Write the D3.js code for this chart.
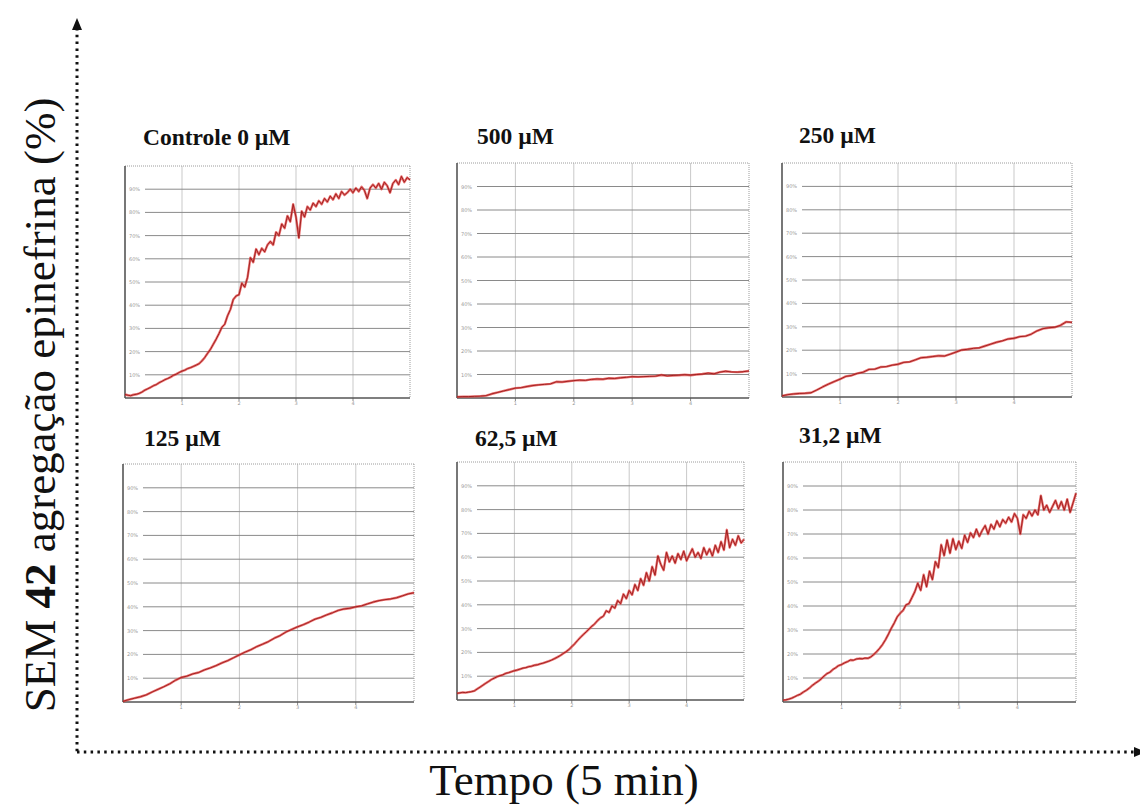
<!DOCTYPE html>
<html>
<head>
<meta charset="utf-8">
<script src="https://cdn.jsdelivr.net/npm/d3@7"></script>
<style>
  body { margin: 0; background: #fff; }
  svg { display: block; }
</style>
</head>
<body>
<svg id="chart" width="1140" height="806"></svg>
<script>
// Panel titles (concentration of SEM 42)
const panelTitles = ["Controle 0 µM", "500 µM", "250 µM", "125 µM", "62,5 µM", "31,2 µM"];

// Aggregation traces (%), sampled every 0.05 min (101 points) or 0.1 min (51 points)
const controle0 = [
  1.5, 1.2, 1.0, 1.4, 1.6, 2.0, 2.6, 3.4, 4.0, 4.6,
  5.3, 5.8, 6.6, 7.2, 7.9, 8.4, 9.0, 9.8, 10.3, 11.0,
  11.6, 12.0, 12.7, 13.1, 13.6, 14.2, 14.8, 16.0, 17.5, 19.3,
  21.0, 23.2, 25.4, 27.8, 30.5, 31.8, 35.5, 38.2, 42.5, 44.0,
  44.5, 49.5, 47.8, 52.0, 60.5, 58.5, 64.2, 61.8, 64.5, 63.0,
  66.0, 67.5, 66.0, 71.5, 70.0, 75.0, 73.2, 78.5, 76.0, 83.5,
  78.0, 69.0, 80.5, 78.0, 82.5, 81.0, 84.0, 82.5, 85.0, 83.5,
  86.0, 84.5, 87.0, 85.5, 88.0, 86.0, 89.0, 87.5, 88.5, 90.0,
  88.5, 90.5, 89.0, 91.0, 89.5, 86.0, 90.5, 92.0, 90.5, 92.5,
  90.0, 93.0, 91.5, 88.5, 92.5, 94.0, 92.0, 95.5, 93.0, 95.0,
  94.0
];
const sem500 = [
  0.5, 0.6, 0.6, 0.7, 0.8, 1.0, 1.8, 2.4, 3.0, 3.6,
  4.2, 4.4, 4.9, 5.3, 5.6, 5.8, 6.0, 6.9, 6.8, 7.1,
  7.4, 7.6, 7.5, 7.9, 8.1, 8.0, 8.4, 8.3, 8.6, 8.8,
  9.1, 9.0, 9.1, 9.2, 9.3, 9.8, 9.4, 9.6, 9.7, 9.9,
  9.7, 10.0, 10.2, 10.6, 10.3, 11.0, 11.4, 11.1, 11.0, 11.2,
  11.5
];
const sem250 = [
  0.5, 1.0, 1.3, 1.5, 1.6, 1.8, 3.0, 4.3, 5.5, 6.6,
  7.6, 8.8, 9.2, 10.1, 10.6, 11.8, 11.9, 12.8, 13.0, 13.6,
  14.0, 14.8, 15.0, 15.9, 16.8, 17.0, 17.3, 17.6, 17.5, 18.3,
  19.2, 20.1, 20.4, 20.8, 21.0, 21.8, 22.6, 23.4, 24.0, 24.8,
  25.1, 25.8, 26.0, 26.9, 28.3, 29.2, 29.6, 29.8, 30.6, 32.1,
  31.9
];
const sem125 = [
  0.3, 1.0, 1.6, 2.2, 3.0, 4.2, 5.3, 6.4, 7.6, 9.1,
  10.3, 10.9, 11.8, 12.4, 13.5, 14.3, 15.3, 16.4, 17.4, 18.6,
  19.8, 21.0, 22.0, 23.3, 24.3, 25.4, 26.8, 27.9, 29.4, 30.5,
  31.6, 32.5, 33.6, 34.8, 35.6, 36.6, 37.5, 38.5, 39.1, 39.4,
  40.0, 40.4, 41.2, 42.0, 42.6, 43.0, 43.3, 43.8, 44.6, 45.4,
  45.9
];
const sem62 = [
  2.8, 3.0, 3.2, 3.1, 3.3, 3.5, 3.8, 4.6, 5.4, 6.2,
  7.0, 7.8, 8.6, 9.2, 9.8, 10.2, 10.6, 11.2, 11.5, 11.9,
  12.3, 12.6, 13.0, 13.4, 13.6, 14.0, 14.2, 14.6, 14.8, 15.2,
  15.5, 15.9, 16.3, 16.8, 17.4, 18.0, 18.7, 19.5, 20.3, 21.2,
  22.4, 23.6, 25.0, 26.3, 27.5, 28.6, 29.8, 31.0, 32.0, 33.4,
  34.5, 35.2, 37.5, 36.8, 39.5, 38.6, 41.8, 40.5, 44.5, 42.6,
  46.0, 44.2, 48.5, 46.0, 51.0, 48.2, 53.5, 50.0, 56.0, 52.5,
  60.5, 57.0, 54.5, 62.0, 58.0, 60.5, 57.5, 61.5, 59.0, 62.5,
  58.5, 61.0, 63.5, 60.0, 62.0, 59.5, 64.0, 61.0, 63.5, 60.5,
  65.0, 62.0, 66.5, 63.0, 71.5, 64.0, 67.5, 65.0, 69.0, 66.0,
  67.5
];
const sem31 = [
  0.8, 0.9, 1.2, 1.6, 2.2, 2.8, 3.3, 4.2, 4.9, 5.8,
  6.9, 7.8, 8.6, 9.6, 10.8, 11.8, 12.4, 13.5, 14.3, 15.2,
  15.6, 16.3, 16.8, 17.5, 17.4, 17.9, 18.1, 18.0, 18.3, 18.2,
  18.8, 19.8, 21.0, 22.4, 24.0, 26.0, 28.3, 30.8, 33.0, 35.5,
  37.0, 38.2, 40.5, 41.0, 43.5, 46.0, 49.5, 46.5, 53.0, 48.0,
  54.5, 51.0, 58.5, 56.0, 65.5, 61.0, 67.5, 62.0, 68.0, 63.5,
  67.0, 64.0, 69.5, 66.5, 70.5, 68.5, 72.0, 69.0, 71.5, 73.5,
  70.0, 74.0, 72.0, 75.5, 73.0, 76.0, 74.5, 77.0, 75.0, 78.5,
  76.5, 70.0, 78.0, 76.5, 79.5, 77.5, 80.0, 78.0, 86.0, 80.0,
  82.0, 79.0, 81.5, 84.0, 80.5, 83.5, 80.0, 84.5, 79.0, 83.0,
  87.0
];

// Tick values shared by every panel
const yTickValues = [10, 20, 30, 40, 50, 60, 70, 80, 90];
const xTickValues = [1, 2, 3, 4];
const xDomain = [0, 5];     // minutes
const yDomain = [0, 100];   // % aggregation

const seriesList = [controle0, sem500, sem250, sem125, sem62, sem31];

// Panel frames on the page
const frames = [
  { left: 125, right: 410, top: 166, bottom: 398, titleX: 143, titleY: 145 },
  { left: 457, right: 749, top: 163, bottom: 398, titleX: 477, titleY: 144 },
  { left: 782, right: 1072, top: 163, bottom: 397, titleX: 799, titleY: 143 },
  { left: 123, right: 414, top: 464, bottom: 702, titleX: 144, titleY: 446 },
  { left: 457, right: 744, top: 462, bottom: 700, titleX: 475, titleY: 446 },
  { left: 783, right: 1076, top: 462, bottom: 702, titleX: 799, titleY: 443 }
];

const svg = d3.select("#chart");
const serif = "'Liberation Serif', 'DejaVu Serif', serif";

frames.forEach((f, i) => {
  const values = seriesList[i];
  const step = (xDomain[1] - xDomain[0]) / (values.length - 1);
  const x = d3.scaleLinear().domain(xDomain).range([f.left, f.right]);
  const y = d3.scaleLinear().domain(yDomain).range([f.bottom, f.top]);
  const g = svg.append("g").attr("class", "panel");

  // vertical grid
  g.selectAll("line.vgrid").data(xTickValues).join("line")
    .attr("class", "vgrid")
    .attr("x1", d => x(d)).attr("x2", d => x(d))
    .attr("y1", f.top).attr("y2", f.bottom)
    .attr("stroke", "#c9c9c9").attr("stroke-width", 1);

  // horizontal grid, leaving room for the tick labels
  g.selectAll("line.hgrid").data(yTickValues).join("line")
    .attr("class", "hgrid")
    .attr("x1", f.left + 20).attr("x2", f.right)
    .attr("y1", d => y(d)).attr("y2", d => y(d))
    .attr("stroke", "#8a8a8a").attr("stroke-width", 1);

  // tiny y tick labels
  g.selectAll("text.ylab").data(yTickValues).join("text")
    .attr("class", "ylab")
    .attr("x", f.left + 4).attr("y", d => y(d) + 2)
    .attr("font-family", "'DejaVu Sans', sans-serif")
    .attr("font-size", 5).attr("fill", "#9a9a9a")
    .text(d => d + "%");

  // tiny x tick marks and labels below the frame
  g.selectAll("line.xtick").data(xTickValues).join("line")
    .attr("class", "xtick")
    .attr("x1", d => x(d)).attr("x2", d => x(d))
    .attr("y1", f.bottom).attr("y2", f.bottom + 3)
    .attr("stroke", "#888").attr("stroke-width", 1);
  g.selectAll("text.xlab").data(xTickValues).join("text")
    .attr("class", "xlab")
    .attr("x", d => x(d)).attr("y", f.bottom + 7)
    .attr("text-anchor", "middle")
    .attr("font-family", "'DejaVu Sans', sans-serif")
    .attr("font-size", 5).attr("fill", "#9a9a9a")
    .text(d => d);

  // frame: light dotted top/right, solid dark left/bottom
  g.append("line").attr("x1", f.left).attr("x2", f.right).attr("y1", f.top).attr("y2", f.top)
    .attr("stroke", "#9c9c9c").attr("stroke-width", 1).attr("stroke-dasharray", "1,1");
  g.append("line").attr("x1", f.right).attr("x2", f.right).attr("y1", f.top).attr("y2", f.bottom)
    .attr("stroke", "#9c9c9c").attr("stroke-width", 1).attr("stroke-dasharray", "1,1");
  g.append("line").attr("x1", f.left).attr("x2", f.left).attr("y1", f.top).attr("y2", f.bottom)
    .attr("stroke", "#555").attr("stroke-width", 1.6);
  g.append("line").attr("x1", f.left).attr("x2", f.right).attr("y1", f.bottom).attr("y2", f.bottom)
    .attr("stroke", "#555").attr("stroke-width", 1.6);

  // trace: red halo with a dark core
  const line = d3.line()
    .x((d, k) => x(xDomain[0] + k * step))
    .y(d => y(d));
  g.append("path").datum(values)
    .attr("d", line).attr("fill", "none")
    .attr("stroke", "#e2403f").attr("stroke-width", 2.4)
    .attr("stroke-opacity", 0.75).attr("stroke-linejoin", "round");
  g.append("path").datum(values)
    .attr("d", line).attr("fill", "none")
    .attr("stroke", "#9b1a1a").attr("stroke-width", 0.9)
    .attr("stroke-linejoin", "round");

  // title
  g.append("text")
    .attr("x", f.titleX).attr("y", f.titleY)
    .attr("font-family", serif).attr("font-weight", "bold")
    .attr("font-size", 23.5).attr("fill", "#111")
    .text(panelTitles[i]);
});

// Outer dotted axes with arrows
const axisX = 77, axisY = 752;
svg.append("line")
  .attr("x1", axisX).attr("x2", axisX).attr("y1", 28).attr("y2", axisY)
  .attr("stroke", "#111").attr("stroke-width", 3).attr("stroke-dasharray", "2.5,4.3");
svg.append("path")
  .attr("d", `M${axisX - 5},30 L${axisX},18 L${axisX + 5},30 Z`)
  .attr("fill", "#111");
svg.append("line")
  .attr("x1", axisX).attr("x2", 1134).attr("y1", axisY).attr("y2", axisY)
  .attr("stroke", "#111").attr("stroke-width", 3).attr("stroke-dasharray", "2.5,4.3");
svg.append("path")
  .attr("d", `M1134,${axisY - 5} L1146,${axisY} L1134,${axisY + 5} Z`)
  .attr("fill", "#111");

// Axis titles
const yTitle = svg.append("text")
  .attr("transform", `translate(55,405) rotate(-90)`)
  .attr("text-anchor", "middle")
  .attr("font-family", serif).attr("font-size", 45).attr("fill", "#111");
yTitle.append("tspan").text("SEM ");
yTitle.append("tspan").attr("font-weight", "bold").text("42");
yTitle.append("tspan").text(" agregação epinefrina (%)");

svg.append("text")
  .attr("x", 564).attr("y", 795)
  .attr("text-anchor", "middle")
  .attr("font-family", serif).attr("font-size", 45).attr("fill", "#111")
  .text("Tempo (5 min)");
</script>
</body>
</html>
